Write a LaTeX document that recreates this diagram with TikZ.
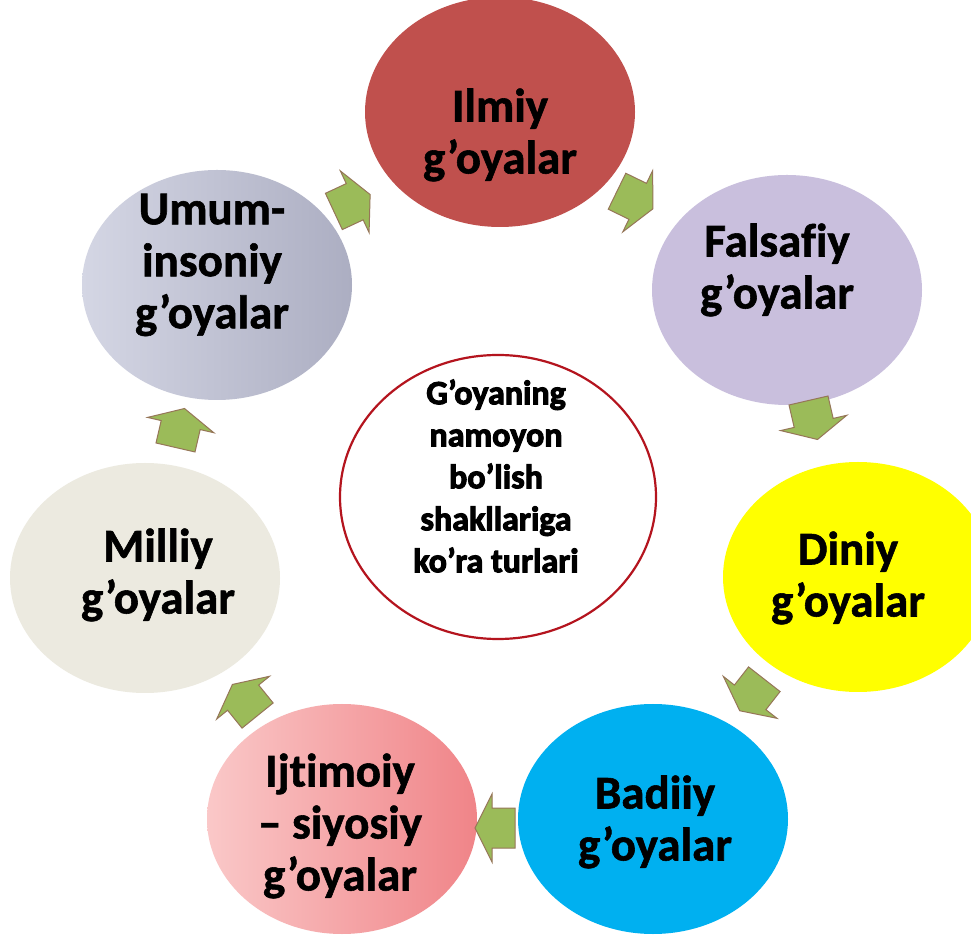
\documentclass[tikz,border=0pt]{standalone}
\usepackage{fontspec}
\setmainfont{Carlito}[Ligatures=NoCommon, BoldFeatures={FakeBold=1.2}]
\newfontfamily\heavyfont{Carlito}[Ligatures=NoCommon, BoldFeatures={FakeBold=3}]
\usetikzlibrary{shapes.geometric}
\definecolor{cIlmiy}{RGB}{192,80,77}
\definecolor{cFals}{RGB}{201,191,221}
\definecolor{cDiniy}{RGB}{255,255,0}
\definecolor{cBadiiy}{RGB}{0,176,240}
\definecolor{cIjtL}{RGB}{250,200,200}
\definecolor{cIjtR}{RGB}{240,132,136}
\definecolor{cMilliy}{RGB}{236,234,224}
\definecolor{cUmumL}{RGB}{212,214,228}
\definecolor{cUmumR}{RGB}{172,174,194}
\definecolor{cArrFill}{RGB}{155,187,89}
\definecolor{cArrDraw}{RGB}{150,118,88}
\definecolor{cCenter}{RGB}{180,20,30}
\tikzset{
  idea/.style={ellipse, minimum width=270pt, minimum height=230pt, inner sep=0pt, draw=none},
  ideatext/.style={align=center, font=\bfseries\fontsize{47}{52}\selectfont, text=black, inner sep=0pt},
  centertext/.style={align=center, font=\heavyfont\bfseries\fontsize{34}{42}\selectfont, text=black, inner sep=0pt},
  cyc/.style={fill=cArrFill, draw=cArrDraw, line width=1pt, line join=miter}
}
\newcommand\cycarrow[3]{%
  \draw[cyc, shift={(#1,#2)}, rotate=#3] (20,0) -- (3,34) -- (3,20) -- (-20,20) -- (-20,-20) -- (3,-20) -- (3,-34) -- cycle;}
\begin{document}
\begin{tikzpicture}[x=1pt,y=1pt]
\useasboundingbox (0,0) rectangle (971,937);
\fill[white] (0,0) rectangle (971,937);
% outer circles
\node[idea, fill=cIlmiy] (ilmiy) at (500,825) {};
\node[idea, fill=cFals] (fals) at (787,647) {};
\node[idea, fill=cDiniy] (diniy) at (858,360) {};
\node[idea, fill=cBadiiy] (badiiy) at (653,118) {};
\node[idea, left color=cIjtL, right color=cIjtR] (ijt) at (342,118) {};
\node[idea, fill=cMilliy] (milliy) at (145,359) {};
\node[idea, left color=cUmumL, right color=cUmumR] (umum) at (217,652) {};
% centre circle
\node[ellipse, minimum width=316pt, minimum height=284pt, draw=cCenter, line width=2.2pt, fill=white] (centre) at (498,440) {};
% texts
\node[ideatext] (tilmiy) at (500,802) {Ilmiy\\g’oyalar};
\node[ideatext] (tfals) at (777,667) {Falsafiy\\g’oyalar};
\node[ideatext] (tdiniy) at (848,359) {Diniy\\g’oyalar};
\node[ideatext] (tbadiiy) at (655,115) {Badiiy\\g’oyalar};
\node[ideatext] (tijt) at (340,111) {Ijtimoiy\\– siyosiy\\g’oyalar};
\node[ideatext] (tmilliy) at (158,362) {Milliy\\g’oyalar};
\node[ideatext] (tumum) at (212,672) {Umum-\\insoniy\\g’oyalar};
\node[centertext] (tcentre) at (496,461) {G’oyaning\\namoyon\\bo’lish\\shakllariga\\ko’ra turlari};
% cycle arrows
\cycarrow{352}{734}{25}
\cycarrow{635}{737}{-26}
\cycarrow{813}{517}{-77}
\cycarrow{752}{242}{-128}
\cycarrow{495}{109}{180}
\cycarrow{245}{237}{129}
\cycarrow{180}{509}{77}
\end{tikzpicture}
\end{document}
